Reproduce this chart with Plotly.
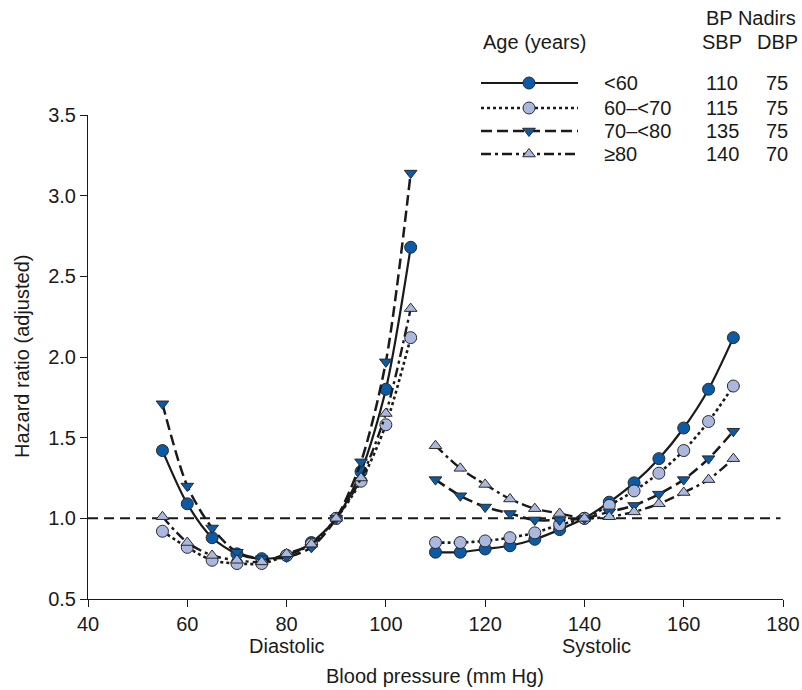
import plotly.graph_objects as go

# ---------------- data ----------------
dbp_x = [55, 60, 65, 70, 75, 80, 85, 90, 95, 100, 105]
sbp_x = [110, 115, 120, 125, 130, 135, 140, 145, 150, 155, 160, 165, 170]

age_groups = ["<60", "60\u2013<70", "70\u2013<80", "\u226580"]
sbp_nadir = ["110", "115", "135", "140"]
dbp_nadir = ["75", "75", "75", "70"]

dbp_hr = {
    "<60":   [1.42, 1.09, 0.88, 0.78, 0.75, 0.77, 0.85, 1.00, 1.29, 1.80, 2.68],
    "60\u2013<70": [0.92, 0.82, 0.74, 0.72, 0.72, 0.77, 0.84, 1.00, 1.23, 1.58, 2.12],
    "70\u2013<80": [1.71, 1.20, 0.94, 0.79, 0.75, 0.76, 0.82, 1.00, 1.35, 1.97, 3.14],
    "\u226580":   [1.01, 0.85, 0.77, 0.74, 0.73, 0.78, 0.84, 1.00, 1.25, 1.65, 2.30],
}
sbp_hr = {
    "<60":   [0.79, 0.79, 0.81, 0.83, 0.87, 0.93, 1.00, 1.10, 1.22, 1.37, 1.56, 1.80, 2.12],
    "60\u2013<70": [0.85, 0.85, 0.86, 0.88, 0.91, 0.96, 1.00, 1.08, 1.17, 1.28, 1.42, 1.60, 1.82],
    "70\u2013<80": [1.24, 1.14, 1.07, 1.03, 0.99, 0.99, 1.00, 1.04, 1.08, 1.15, 1.24, 1.37, 1.54],
    "\u226580":   [1.45, 1.31, 1.21, 1.12, 1.06, 1.03, 1.00, 1.01, 1.04, 1.09, 1.16, 1.24, 1.37],
}

x_ticks = [40, 60, 80, 100, 120, 140, 160, 180]
y_ticks = [0.5, 1.0, 1.5, 2.0, 2.5, 3.0, 3.5]

# ---------------- styles ----------------
DARK = "#0a5aa6"
LIGHT = "#aab8e0"
EDGE = "#2a2a2a"
styles = {
    "<60":   dict(dash="solid", symbol="circle", color=DARK, size=12, width=2.2),
    "60\u2013<70": dict(dash="3px,3px", symbol="circle", color=LIGHT, size=12, width=2.6),
    "70\u2013<80": dict(dash="11px,5px", symbol="triangle-down", color=DARK, size=11, width=2.5),
    "\u226580":   dict(dash="10px,4px,3px,4px", symbol="triangle-up", color=LIGHT, size=11, width=2.4),
}

FONT = "Liberation Sans, Arial, Helvetica, sans-serif"
W, H = 802, 690
L, R, T, B = 88, 19, 0, 91
PW, PH = W - L - R, H - T - B
plot_top_px = 115
ydom_top = (H - B - plot_top_px) / PH


def py(p):  # pixel y -> paper y
    return (H - B - p) / PH


def px(p):  # pixel x -> paper x
    return (p - L) / PW


fig = go.Figure()

# reference line at HR = 1
fig.add_shape(type="line", xref="x", yref="y", x0=40, x1=179.5, y0=1.0, y1=1.0,
              line=dict(color="#1a1a1a", width=2, dash="10px,6px"), layer="below")

for g in age_groups:
    s = styles[g]
    for xs, ys in ((dbp_x, dbp_hr[g]), (sbp_x, sbp_hr[g])):
        fig.add_trace(go.Scatter(
            x=xs, y=ys, mode="lines+markers",
            line=dict(color="#1a1a1a", width=s["width"], dash=s["dash"], shape="spline", smoothing=0.8),
            marker=dict(symbol=s["symbol"], size=s["size"], color=s["color"],
                        line=dict(color=EDGE, width=1)),
            showlegend=False, hoverinfo="skip"))

# ---------------- custom legend (separate pixel-space axis) ----------------
row_px = [83, 108, 131, 154]
for g, r in zip(age_groups, row_px):
    s = styles[g]
    fig.add_trace(go.Scatter(
        x=[481, 578], y=[r, r], mode="lines", xaxis="x2", yaxis="y2",
        line=dict(color="#1a1a1a", width=s["width"], dash=s["dash"]),
        showlegend=False, hoverinfo="skip"))
    fig.add_trace(go.Scatter(
        x=[529], y=[r], mode="markers", xaxis="x2", yaxis="y2",
        marker=dict(symbol=s["symbol"], size=s["size"], color=s["color"],
                    line=dict(color=EDGE, width=1)),
        showlegend=False, hoverinfo="skip"))

ann = []
tf = dict(family=FONT, size=20, color="#1a1a1a")
ann.append(dict(text="Age (years)", xref="paper", yref="paper", x=px(481), y=py(42),
                xanchor="left", yanchor="middle", showarrow=False, font=tf))
ann.append(dict(text="BP Nadirs", xref="paper", yref="paper", x=px(751), y=py(18),
                xanchor="center", yanchor="middle", showarrow=False, font=tf))
ann.append(dict(text="SBP", xref="paper", yref="paper", x=px(722), y=py(42),
                xanchor="center", yanchor="middle", showarrow=False, font=tf))
ann.append(dict(text="DBP", xref="paper", yref="paper", x=px(777), y=py(42),
                xanchor="center", yanchor="middle", showarrow=False, font=tf))
for g, sv, dv, r in zip(age_groups, sbp_nadir, dbp_nadir, row_px):
    ann.append(dict(text=g, xref="paper", yref="paper", x=px(602), y=py(r),
                    xanchor="left", yanchor="middle", showarrow=False, font=tf))
    ann.append(dict(text=sv, xref="paper", yref="paper", x=px(722), y=py(r),
                    xanchor="center", yanchor="middle", showarrow=False, font=tf))
    ann.append(dict(text=dv, xref="paper", yref="paper", x=px(777), y=py(r),
                    xanchor="center", yanchor="middle", showarrow=False, font=tf))

# axis sub-labels and titles
ann.append(dict(text="Diastolic", xref="x", yref="paper", x=80, y=0, yshift=-47,
                xanchor="center", yanchor="middle", showarrow=False, font=tf))
ann.append(dict(text="Systolic", xref="x", yref="paper", x=142.5, y=0, yshift=-47,
                xanchor="center", yanchor="middle", showarrow=False, font=tf))
ann.append(dict(text="Blood pressure (mm Hg)", xref="paper", yref="paper", x=px(435), y=0,
                yshift=-77, xanchor="center", yanchor="middle", showarrow=False, font=tf))
ann.append(dict(text="Hazard ratio (adjusted)", xref="paper", yref="paper", x=px(22), y=py(357),
                xanchor="center", yanchor="middle", textangle=-90, showarrow=False, font=tf))

fig.update_layout(
    width=W, height=H,
    margin=dict(l=L, r=R, t=T, b=B, autoexpand=False),
    paper_bgcolor="white", plot_bgcolor="rgba(0,0,0,0)",
    font=tf,
    annotations=ann,
    xaxis=dict(range=[40, 180], tickvals=x_ticks, ticks="outside", ticklen=7, tickwidth=1,
               tickcolor="#1a1a1a", showline=True, linecolor="#1a1a1a", linewidth=1,
               showgrid=False, zeroline=False, tickfont=tf, anchor="y"),
    yaxis=dict(range=[0.5, 3.5], tickvals=y_ticks, tickformat=".1f", ticks="outside", ticklen=7,
               tickwidth=1, tickcolor="#1a1a1a", showline=True, linecolor="#1a1a1a", linewidth=1,
               showgrid=False, zeroline=False, tickfont=tf, domain=[0, ydom_top], anchor="x"),
    xaxis2=dict(range=[L, W - R], domain=[0, 1], visible=False, anchor="y2"),
    yaxis2=dict(range=[H - B, T], domain=[0, 1], visible=False, anchor="x2"),
)

fig.write_html("out.html", config={"displayModeBar": False},
               post_script="document.body.style.margin='0';")
